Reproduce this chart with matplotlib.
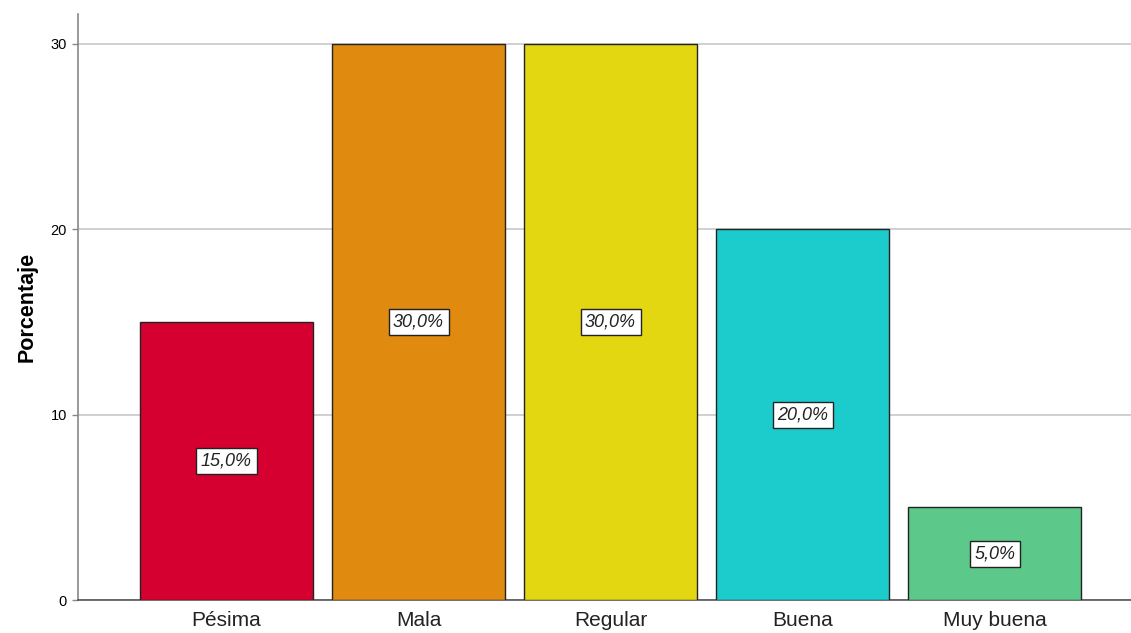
import numpy as np
import matplotlib.pyplot as plt

plt.rcParams['font.family'] = ['Liberation Sans', 'DejaVu Sans']

categorias = ['Pésima', 'Mala', 'Regular', 'Buena', 'Muy buena']
porcentajes = [15.0, 30.0, 30.0, 20.0, 5.0]
colores = ['#D60030', '#E08A10', '#E2D710', '#1CCCCC', '#5CC98A']
yticks = [0, 10, 20, 30]

fig = plt.figure(figsize=(11.31, 6.33), dpi=100)
ax = fig.add_axes([0.069, 0.052, 0.931, 0.926])

x = np.arange(len(categorias))
ax.bar(x, porcentajes, width=0.9, color=colores, edgecolor='#222222', linewidth=1.0, zorder=3)

# etiquetas de porcentaje en el centro de cada barra
for xi, v in zip(x, porcentajes):
    ax.text(xi, v / 2, f"{v:.1f}%".replace('.', ','), ha='center', va='center',
            fontsize=13, style='italic', color='#222222', zorder=4,
            bbox=dict(boxstyle='square,pad=0.25', facecolor='white', edgecolor='#222222', linewidth=1.0))

ax.set_xlim(-0.773, 4.71)
ax.set_ylim(0, 31.6)
ax.set_xticks(x)
ax.set_xticklabels(categorias, fontsize=15, color='#222222')
ax.set_yticks(yticks)
ax.set_yticklabels([str(t) for t in yticks], fontsize=10.5)
ax.tick_params(axis='x', length=0, pad=8)
ax.tick_params(axis='y', length=4, width=1, color='#888888', pad=4)
ax.set_ylabel('Porcentaje', fontsize=15.5, fontweight='bold', labelpad=9)

ax.yaxis.grid(True, color='#c8c8c8', linewidth=1.2, zorder=0)
ax.spines['top'].set_visible(False)
ax.spines['right'].set_visible(False)
ax.spines['left'].set_color('#888888')
ax.spines['bottom'].set_color('#555555')
ax.spines['left'].set_linewidth(1.2)
ax.spines['bottom'].set_linewidth(1.2)

plt.savefig('out.png', dpi=100)
